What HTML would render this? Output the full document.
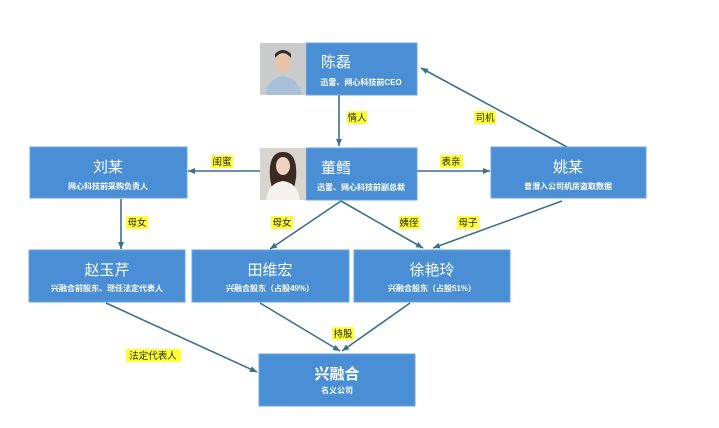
<!DOCTYPE html>
<html><head><meta charset="utf-8"><style>
html,body{margin:0;padding:0;background:#fff;}
svg{display:block;}
text{font-family:"Liberation Sans","Noto Sans CJK SC",sans-serif;}
</style></head><body>
<svg width="719" height="428" viewBox="0 0 719 428" xmlns="http://www.w3.org/2000/svg">
<defs>
<marker id="a" markerWidth="8" markerHeight="8" refX="7" refY="4" orient="auto" markerUnits="userSpaceOnUse">
<path d="M0,1 L7,4 L0,7 z" fill="#3c6e8c"/></marker>
</defs>
<rect width="719" height="428" fill="#fff"/>
<g stroke="#3c6e8c" stroke-width="1.6" fill="none" marker-end="url(#a)">
<line x1="339" y1="95" x2="339" y2="146"/>
<line x1="567" y1="147" x2="421" y2="68"/>
<line x1="260" y1="171" x2="188" y2="171"/>
<line x1="417" y1="171" x2="490" y2="171"/>
<line x1="121" y1="199" x2="121" y2="249"/>
<line x1="341" y1="201" x2="270" y2="249"/>
<line x1="341" y1="201" x2="423" y2="248"/>
<line x1="562" y1="201" x2="433" y2="248"/>
<line x1="106" y1="303" x2="257" y2="372"/>
<line x1="260" y1="303" x2="340" y2="351"/>
<line x1="410" y1="303" x2="342" y2="351"/>
</g>
<g fill="#4a8fd6" stroke="#6aa5e0" stroke-width="1">
<rect x="306" y="43" width="111" height="52"/>
<rect x="306" y="148" width="111" height="52"/>
<rect x="30" y="147" width="157" height="51"/>
<rect x="491" y="147" width="155" height="51"/>
<rect x="29" y="250" width="156" height="52"/>
<rect x="192" y="250" width="157" height="52"/>
<rect x="354" y="250" width="156" height="52"/>
<rect x="259" y="354" width="156" height="52"/>
</g>
<!-- photos -->
<rect x="260" y="43" width="46" height="52" fill="#c9cbcd"/>
<path d="M266,95 Q268,78 283,76 Q298,78 302,95 Z" fill="#a9bfd8"/>
<ellipse cx="283" cy="62" rx="8" ry="10" fill="#e8c4a8"/>
<path d="M275,58 Q283,48 291,58 L291,54 Q283,46 275,54Z" fill="#2a2a2a"/>
<rect x="260" y="148" width="46" height="52" fill="#d9d4cf"/>
<path d="M270,178 Q268,152 283,152 Q298,152 296,178 L292,200 L274,200 Z" fill="#3b2a24"/>
<ellipse cx="283" cy="166" rx="7" ry="9" fill="#f0d2c0"/>
<path d="M266,200 Q268,183 283,181 Q298,183 300,200 Z" fill="#f4f2ef"/>
<g fill="#fff" text-anchor="middle">
<text x="336" y="67" font-size="15">陈磊</text>
<text x="361" y="85" font-size="8" font-weight="bold">迅雷、网心科技前CEO</text>
<text x="336" y="173" font-size="15">董鳕</text>
<text x="361" y="190" font-size="8" font-weight="bold">迅雷、网心科技前副总裁</text>
<text x="108" y="172" font-size="15">刘某</text>
<text x="108" y="189" font-size="8" font-weight="bold">网心科技前采购负责人</text>
<text x="568" y="172" font-size="15">姚某</text>
<text x="568" y="189" font-size="8" font-weight="bold">曾潜入公司机房盗取数据</text>
<text x="107" y="275" font-size="15">赵玉芹</text>
<text x="107" y="291" font-size="8" font-weight="bold">兴融合前股东、现任法定代表人</text>
<text x="270" y="275" font-size="15">田维宏</text>
<text x="270" y="291" font-size="8" font-weight="bold">兴融合股东（占股49%）</text>
<text x="432" y="275" font-size="15">徐艳玲</text>
<text x="432" y="291" font-size="8" font-weight="bold">兴融合股东（占股51%）</text>
<text x="337" y="379" font-size="15" font-weight="bold">兴融合</text>
<text x="337" y="393" font-size="8" font-weight="bold">名义公司</text>
</g>
<g fill="#ffff33">
<rect x="347" y="111" width="20" height="13"/>
<rect x="474" y="111" width="22" height="13"/>
<rect x="211" y="155" width="22" height="13"/>
<rect x="440" y="155" width="23" height="13"/>
<rect x="126" y="216" width="22" height="13"/>
<rect x="271" y="216" width="22" height="13"/>
<rect x="399" y="216" width="21" height="13"/>
<rect x="457" y="216" width="22" height="13"/>
<rect x="332" y="327" width="22" height="13"/>
<rect x="126" y="349" width="55" height="13"/>
</g>
<g fill="#222" font-size="9.5" text-anchor="middle">
<text x="357" y="121">情人</text>
<text x="485" y="121">司机</text>
<text x="222" y="165">闺蜜</text>
<text x="451" y="165">表亲</text>
<text x="137" y="226">母女</text>
<text x="282" y="226">母女</text>
<text x="409" y="226">姨侄</text>
<text x="468" y="226">母子</text>
<text x="343" y="337">持股</text>
<text x="153" y="359">法定代表人</text>
</g>
</svg>
</body></html>
